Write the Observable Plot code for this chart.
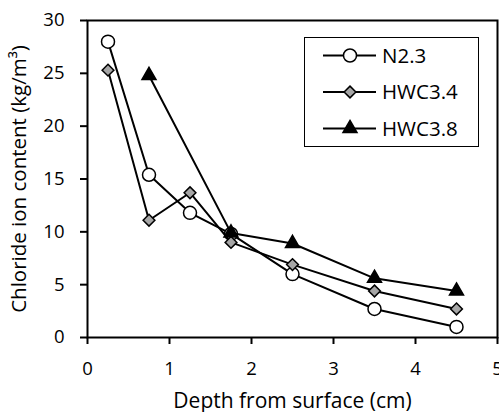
<!DOCTYPE html>
<html>
<head>
<meta charset="utf-8">
<script src="https://cdn.jsdelivr.net/npm/d3@7"></script>
<script src="https://cdn.jsdelivr.net/npm/@observablehq/plot@0.6"></script>
<style>
  html, body { margin: 0; padding: 0; background: #fff; }
  #wrap { position: relative; width: 499px; height: 412px; overflow: hidden; font-family: "Open Sans", sans-serif; }
  #legend { position: absolute; left: 304px; top: 37px; width: 175px; height: 110px; border: 1.5px solid #000; background: #fff; box-sizing: border-box; }
</style>
</head>
<body>
<div id="wrap"><div id="chart"></div><div id="legend"></div></div>
<script>
// Data
const seriesNames = ["N2.3", "HWC3.4", "HWC3.8"];
const depthN23 = [0.25, 0.75, 1.25, 1.75, 2.5, 3.5, 4.5];
const valuesN23 = [28.0, 15.4, 11.8, 9.8, 6.0, 2.7, 1.0];
const depthHWC34 = [0.25, 0.75, 1.25, 1.75, 2.5, 3.5, 4.5];
const valuesHWC34 = [25.3, 11.1, 13.7, 9.0, 6.9, 4.4, 2.7];
const depthHWC38 = [0.75, 1.75, 2.5, 3.5, 4.5];
const valuesHWC38 = [24.8, 9.9, 8.9, 5.6, 4.4];
const xTicks = [0, 1, 2, 3, 4, 5];
const yTicks = [0, 5, 10, 15, 20, 25, 30];
const xLabel = "Depth from surface (cm)";
const yLabel = "Chloride ion content (kg/m³)";

const styles = {
  "N2.3":   {symbol: "circle",   fill: "#ffffff", r: 6.5},
  "HWC3.4": {symbol: "diamond2", fill: "#a6a6a6", r: 5.3},
  "HWC3.8": {symbol: "triangle", fill: "#000000", r: 5.2}
};

const rows = [];
depthN23.forEach((d, i) => rows.push({series: "N2.3", depth: d, value: valuesN23[i]}));
depthHWC34.forEach((d, i) => rows.push({series: "HWC3.4", depth: d, value: valuesHWC34[i]}));
depthHWC38.forEach((d, i) => rows.push({series: "HWC3.8", depth: d, value: valuesHWC38[i]}));

const marks = [
  Plot.frame({stroke: "#000", strokeWidth: 2}),
  Plot.axisX({ticks: xTicks, tickFormat: d3.format("d"), tickSize: 7, tickPadding: 17, strokeWidth: 2, fontSize: 18.5, label: null}),
  Plot.axisX({ticks: [], tickSize: 0, fontSize: 21,
    label: xLabel, labelAnchor: "center", labelArrow: "none", labelOffset: 70}),
  Plot.axisY({ticks: yTicks, tickFormat: d3.format("d"), tickSize: 7, tickPadding: 16, strokeWidth: 2, fontSize: 18.5, label: null}),
  Plot.axisY({ticks: [], tickSize: 0, fontSize: 20.5,
    label: yLabel, labelAnchor: "center", labelArrow: "none", labelOffset: 76})
];
for (const s of seriesNames) {
  const data = rows.filter(r => r.series === s);
  marks.push(Plot.line(data, {x: "depth", y: "value", stroke: "#000", strokeWidth: 2}));
  marks.push(Plot.dot(data, {x: "depth", y: "value", symbol: () => styles[s].symbol, r: styles[s].r,
    fill: styles[s].fill, stroke: "#000", strokeWidth: 1.5}));
}

const chart = Plot.plot({
  width: 499, height: 412,
  marginLeft: 87, marginRight: 2, marginTop: 20, marginBottom: 75,
  style: {fontFamily: "Open Sans, sans-serif", fontSize: "21px", color: "#000", background: "#fff", overflow: "visible"},
  x: {domain: [0, 5]},
  y: {domain: [0, 30]},
  marks
});
document.getElementById("chart").appendChild(chart);

// Legend (inside the plot area, as in the reference)
const legend = d3.select("#legend").append("svg").attr("width", 172).attr("height", 107)
  .style("position", "absolute").style("left", "0px").style("top", "0px");
seriesNames.forEach((s, i) => {
  const g = legend.append("g").attr("transform", `translate(0, ${17.5 + i * 36.5})`);
  g.append("line").attr("x1", 18).attr("x2", 71).attr("y1", 0).attr("y2", 0).attr("stroke", "#000").attr("stroke-width", 2);
  const st = styles[s];
  const sym = {circle: d3.symbolCircle, diamond2: d3.symbolDiamond2, triangle: d3.symbolTriangle}[st.symbol];
  g.append("path").attr("transform", "translate(45,0)")
    .attr("d", d3.symbol(sym, Math.PI * st.r * st.r)())
    .attr("fill", st.fill).attr("stroke", "#000").attr("stroke-width", 1.5);
  g.append("text").attr("x", 77).attr("y", 0).attr("dy", "0.35em")
    .attr("font-family", "Open Sans, sans-serif").attr("font-size", 20.5).text(s);
});
</script>
</body>
</html>
